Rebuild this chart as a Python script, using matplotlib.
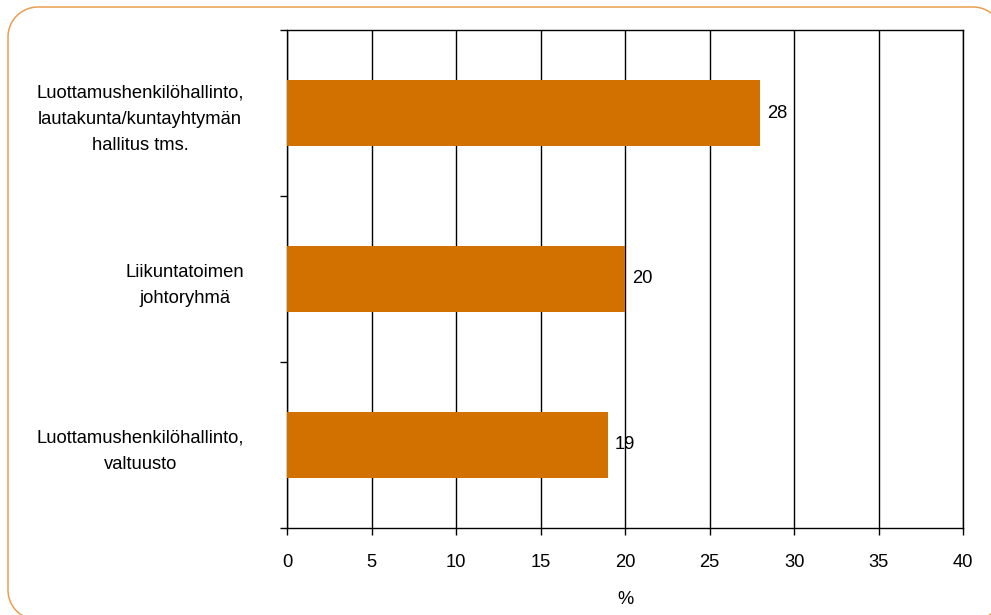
import numpy as np
import matplotlib.pyplot as plt
from matplotlib.lines import Line2D
from matplotlib.transforms import IdentityTransform

plt.rcParams['font.family'] = ['Liberation Sans', 'DejaVu Sans']

# top to bottom as shown
categories = [
    'Luottamushenkilöhallinto,\nlautakunta/kuntayhtymän\nhallitus tms.',
    'Liikuntatoimen\njohtoryhmä',
    'Luottamushenkilöhallinto,\nvaltuusto',
]
values = [28, 20, 19]
xticks = [0, 5, 10, 15, 20, 25, 30, 35, 40]

bar_color = '#D27000'
frame_color = '#E8A050'
fs = 13.2


def rounded_rect(x0, y0, x1, y1, r, n=24):
    # polyline outline of a rounded rectangle, corners sampled as arcs
    pts = []
    corners = [(x1 - r, y1 - r, 0), (x0 + r, y1 - r, 90),
               (x0 + r, y0 + r, 180), (x1 - r, y0 + r, 270)]
    for cx, cy, a0 in corners:
        t = np.radians(np.linspace(a0, a0 + 90, n))
        pts.append(np.column_stack([cx + r * np.cos(t), cy + r * np.sin(t)]))
    pts = np.vstack(pts + [pts[0][:1]])
    return pts[:, 0], pts[:, 1]


fig = plt.figure(figsize=(9.91, 6.15), dpi=100)
ax = fig.add_axes([0.2896, 0.1415, 0.6822, 0.8097])

ypos = list(range(len(categories)))
bars = ax.barh(ypos, values, height=0.4, color=bar_color, zorder=3)
for b, v in zip(bars, values):
    ax.text(b.get_width() + 0.4, b.get_y() + b.get_height() / 2, str(v),
            va='center', ha='left', fontsize=fs, zorder=4)

ax.set_xlim(0, 40)
ax.set_ylim(2.5, -0.5)
ax.set_xticks(xticks)
ax.set_xticklabels([str(t) for t in xticks], fontsize=fs)
ax.tick_params(axis='x', length=5, width=1, pad=14, colors='black')
ax.set_xlabel('%', fontsize=fs, labelpad=14)

# category labels without ticks, ticks sit at the category boundaries
ax.set_yticks(ypos)
ax.set_yticklabels(categories, fontsize=fs, linespacing=1.7,
                   ha='right', multialignment='center')
ax.tick_params(axis='y', which='major', length=0, pad=31)
ax.set_yticks([-0.5, 0.5, 1.5, 2.5], minor=True)
ax.tick_params(axis='y', which='minor', length=5, width=1)

ax.grid(axis='x', color='black', linewidth=1, zorder=0)
for s in ax.spines.values():
    s.set_color('black')
    s.set_linewidth(1)

# rounded outer frame in pixels, running off the right and bottom edges
fx, fy = rounded_rect(8, -5, 1003, 608, 30)
fig.lines.append(Line2D(fx, fy, transform=IdentityTransform(),
                        color=frame_color, linewidth=1.1))

fig.savefig('out.png', dpi=100)
